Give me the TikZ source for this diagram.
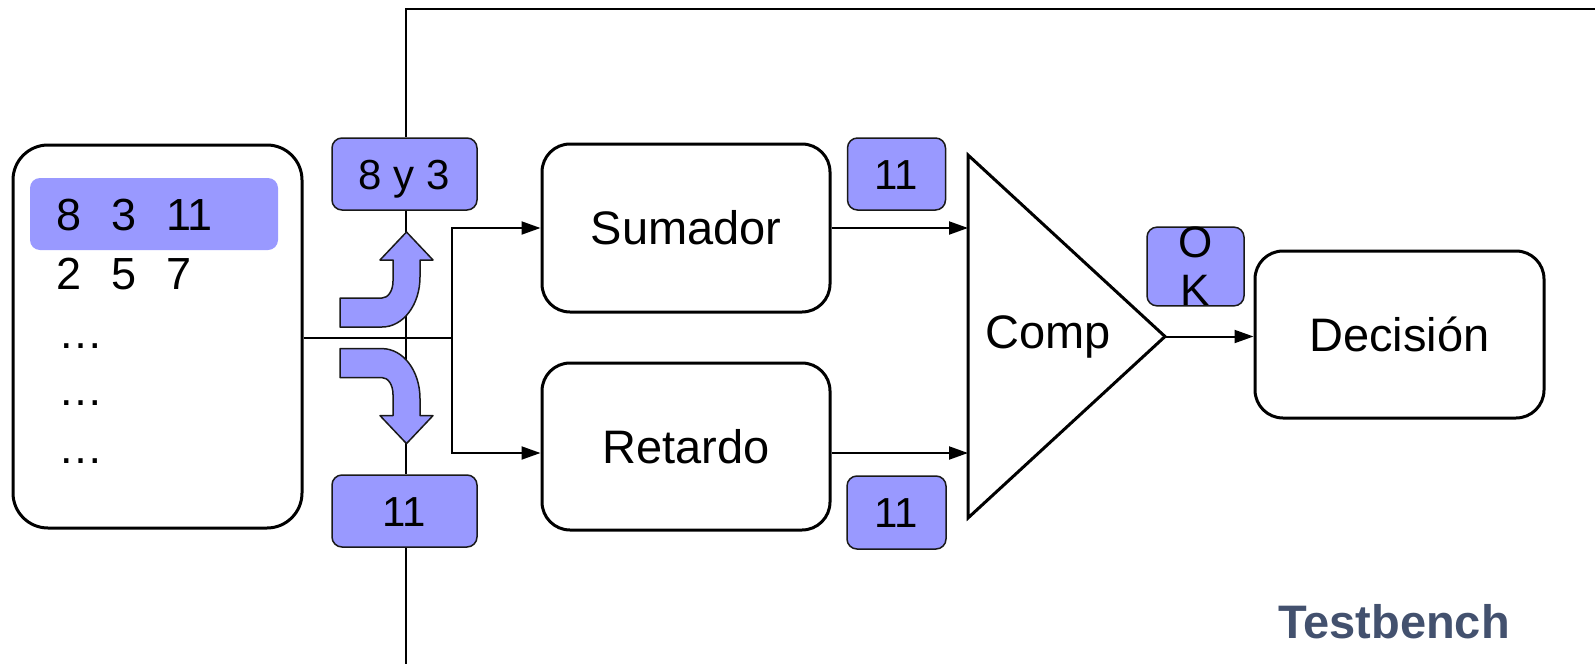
\documentclass[tikz,border=0pt]{standalone}
\usepackage{fontspec}
\setmainfont{Liberation Sans}
\usetikzlibrary{arrows.meta}
\definecolor{sigblue}{HTML}{9999FF}
\definecolor{tbslate}{RGB}{67,81,110}
\tikzset{
  blk/.style={draw, line width=3pt, rounded corners=28pt, inner sep=0pt,
    minimum width=288pt, minimum height=168pt,
    font=\fontsize{47}{56}\selectfont, text height=33.6pt, text depth=0pt},
  sig/.style={draw=black!90, line width=1.5pt, fill=sigblue, rounded corners=10pt,
    inner sep=0pt, minimum height=72pt},
  sigtxt/.style={font=\fontsize{42}{50}\selectfont, text height=30pt, text depth=0pt},
  memtxt/.style={anchor=base west, inner sep=0pt, font=\fontsize{45}{54}\selectfont},
  wire/.style={line width=2pt},
  conn/.style={line width=2pt, -{Triangle[length=19pt,width=13pt]}},
  frame/.style={line width=2pt},
  bentarrow/.style={draw=black!90, line width=1.5pt, fill=sigblue, line join=round},
}
\newcommand{\memcol}[1]{\makebox[55pt][l]{#1}}
\begin{document}
\begin{tikzpicture}[x=1pt, y=-1pt]
\useasboundingbox (0,0) rectangle (1595,664);

% stimulus memory with the current vector highlighted
\node[draw, line width=3pt, rounded corners=35pt, minimum width=289pt,
      minimum height=383pt] (mem) at (157.5,336.5) {};
\node[fill=sigblue, rounded corners=10pt, minimum width=248pt,
      minimum height=72pt, inner sep=0pt] (hl) at (154,214) {};
\node[memtxt] (row1) at (56,230) {\memcol{8}\memcol{3}11};
\node[memtxt] (row2) at (56,289) {\memcol{2}\memcol{5}7};
\node[memtxt] (dots1) at (58,348) {…};
\node[memtxt] (dots2) at (58,405) {…};
\node[memtxt] (dots3) at (58,463) {…};

% blocks under test
\node[blk] (sum) at (686,228) {Sumador};
\node[blk, minimum height=167pt] (ret) at (686,446.5) {Retardo};
\node[blk, minimum width=289pt, minimum height=167pt] (dec) at (1399.5,334.5) {Decisión};

% comparator
\coordinate (tA) at (968,155);
\coordinate (tB) at (968,518);
\coordinate (tC) at (1165,336.5);
\draw[line width=3pt, line join=miter] (tA) -- (tC) -- (tB) -- cycle;
\node[font=\fontsize{47}{56}\selectfont, text height=33.6pt, text depth=0pt,
      inner sep=0pt] (cmp) at (1048,331.5) {Comp};

% signal values
\node[sig, sigtxt, minimum width=145pt] (in) at (404.5,174) {8 y 3};
\node[sig, sigtxt, minimum width=145pt] (exp) at (404.5,511) {11};
\node[sig, sigtxt, minimum width=98pt] (s1) at (896.5,174) {11};
\node[sig, sigtxt, minimum width=99pt, minimum height=73pt] (s2) at (896.5,512.5) {11};
\node[sig, minimum width=97pt, minimum height=73pt, align=center,
      font=\fontsize{44}{48}\selectfont] (ok) at (1195.5,266.5) {O\\K};

% testbench boundary
\coordinate (ft) at (406,9);
\coordinate (fr) at (1595,9);
\coordinate (fb) at (406,664);
\draw[frame] (fr) -- (ft) -- (ft |- in.north);
\draw[frame] (ft |- in.south) -- (ft |- exp.north);
\draw[frame] (ft |- exp.south) -- (fb);

% data path
\coordinate (br) at (452,338);
\coordinate (ri) at ([yshift=-6.5pt]ret.west);
\coordinate (ro) at ([yshift=-6.5pt]ret.east);
\draw[wire] (br -| mem.east) -- (br);
\draw[conn] (br) |- (sum.west);
\draw[conn] (br) |- (ri);
\draw[conn] (sum.east) -- (sum.east -| tA);
\draw[conn] (ro) -- (ro -| tA);
\draw[conn] (tC) -- (tC -| dec.west);

% bent arrows: vector goes out, expected result comes back
\draw[bentarrow] (340,298) -- (382,298) .. controls (388,298) and (393,291) .. (393,281)
  -- (393,260) -- (380,260) -- (406.5,232) -- (433,260) -- (420,260) -- (420,277)
  .. controls (420,305) and (403,327) .. (382,327) -- (340,327) -- cycle;
\draw[bentarrow] (340,377.6) -- (382,377.6) .. controls (388,377.6) and (393,384.6) .. (393,394.6)
  -- (393,415.6) -- (380,415.6) -- (406.5,443.6) -- (433,415.6) -- (420,415.6) -- (420,398.6)
  .. controls (420,370.6) and (403,348.6) .. (382,348.6) -- (340,348.6) -- cycle;

% caption
\node[anchor=base west, inner sep=0pt, text=tbslate,
      font=\fontsize{47}{56}\selectfont\bfseries] (tb) at (1278,638) {Testbench};
\end{tikzpicture}
\end{document}
